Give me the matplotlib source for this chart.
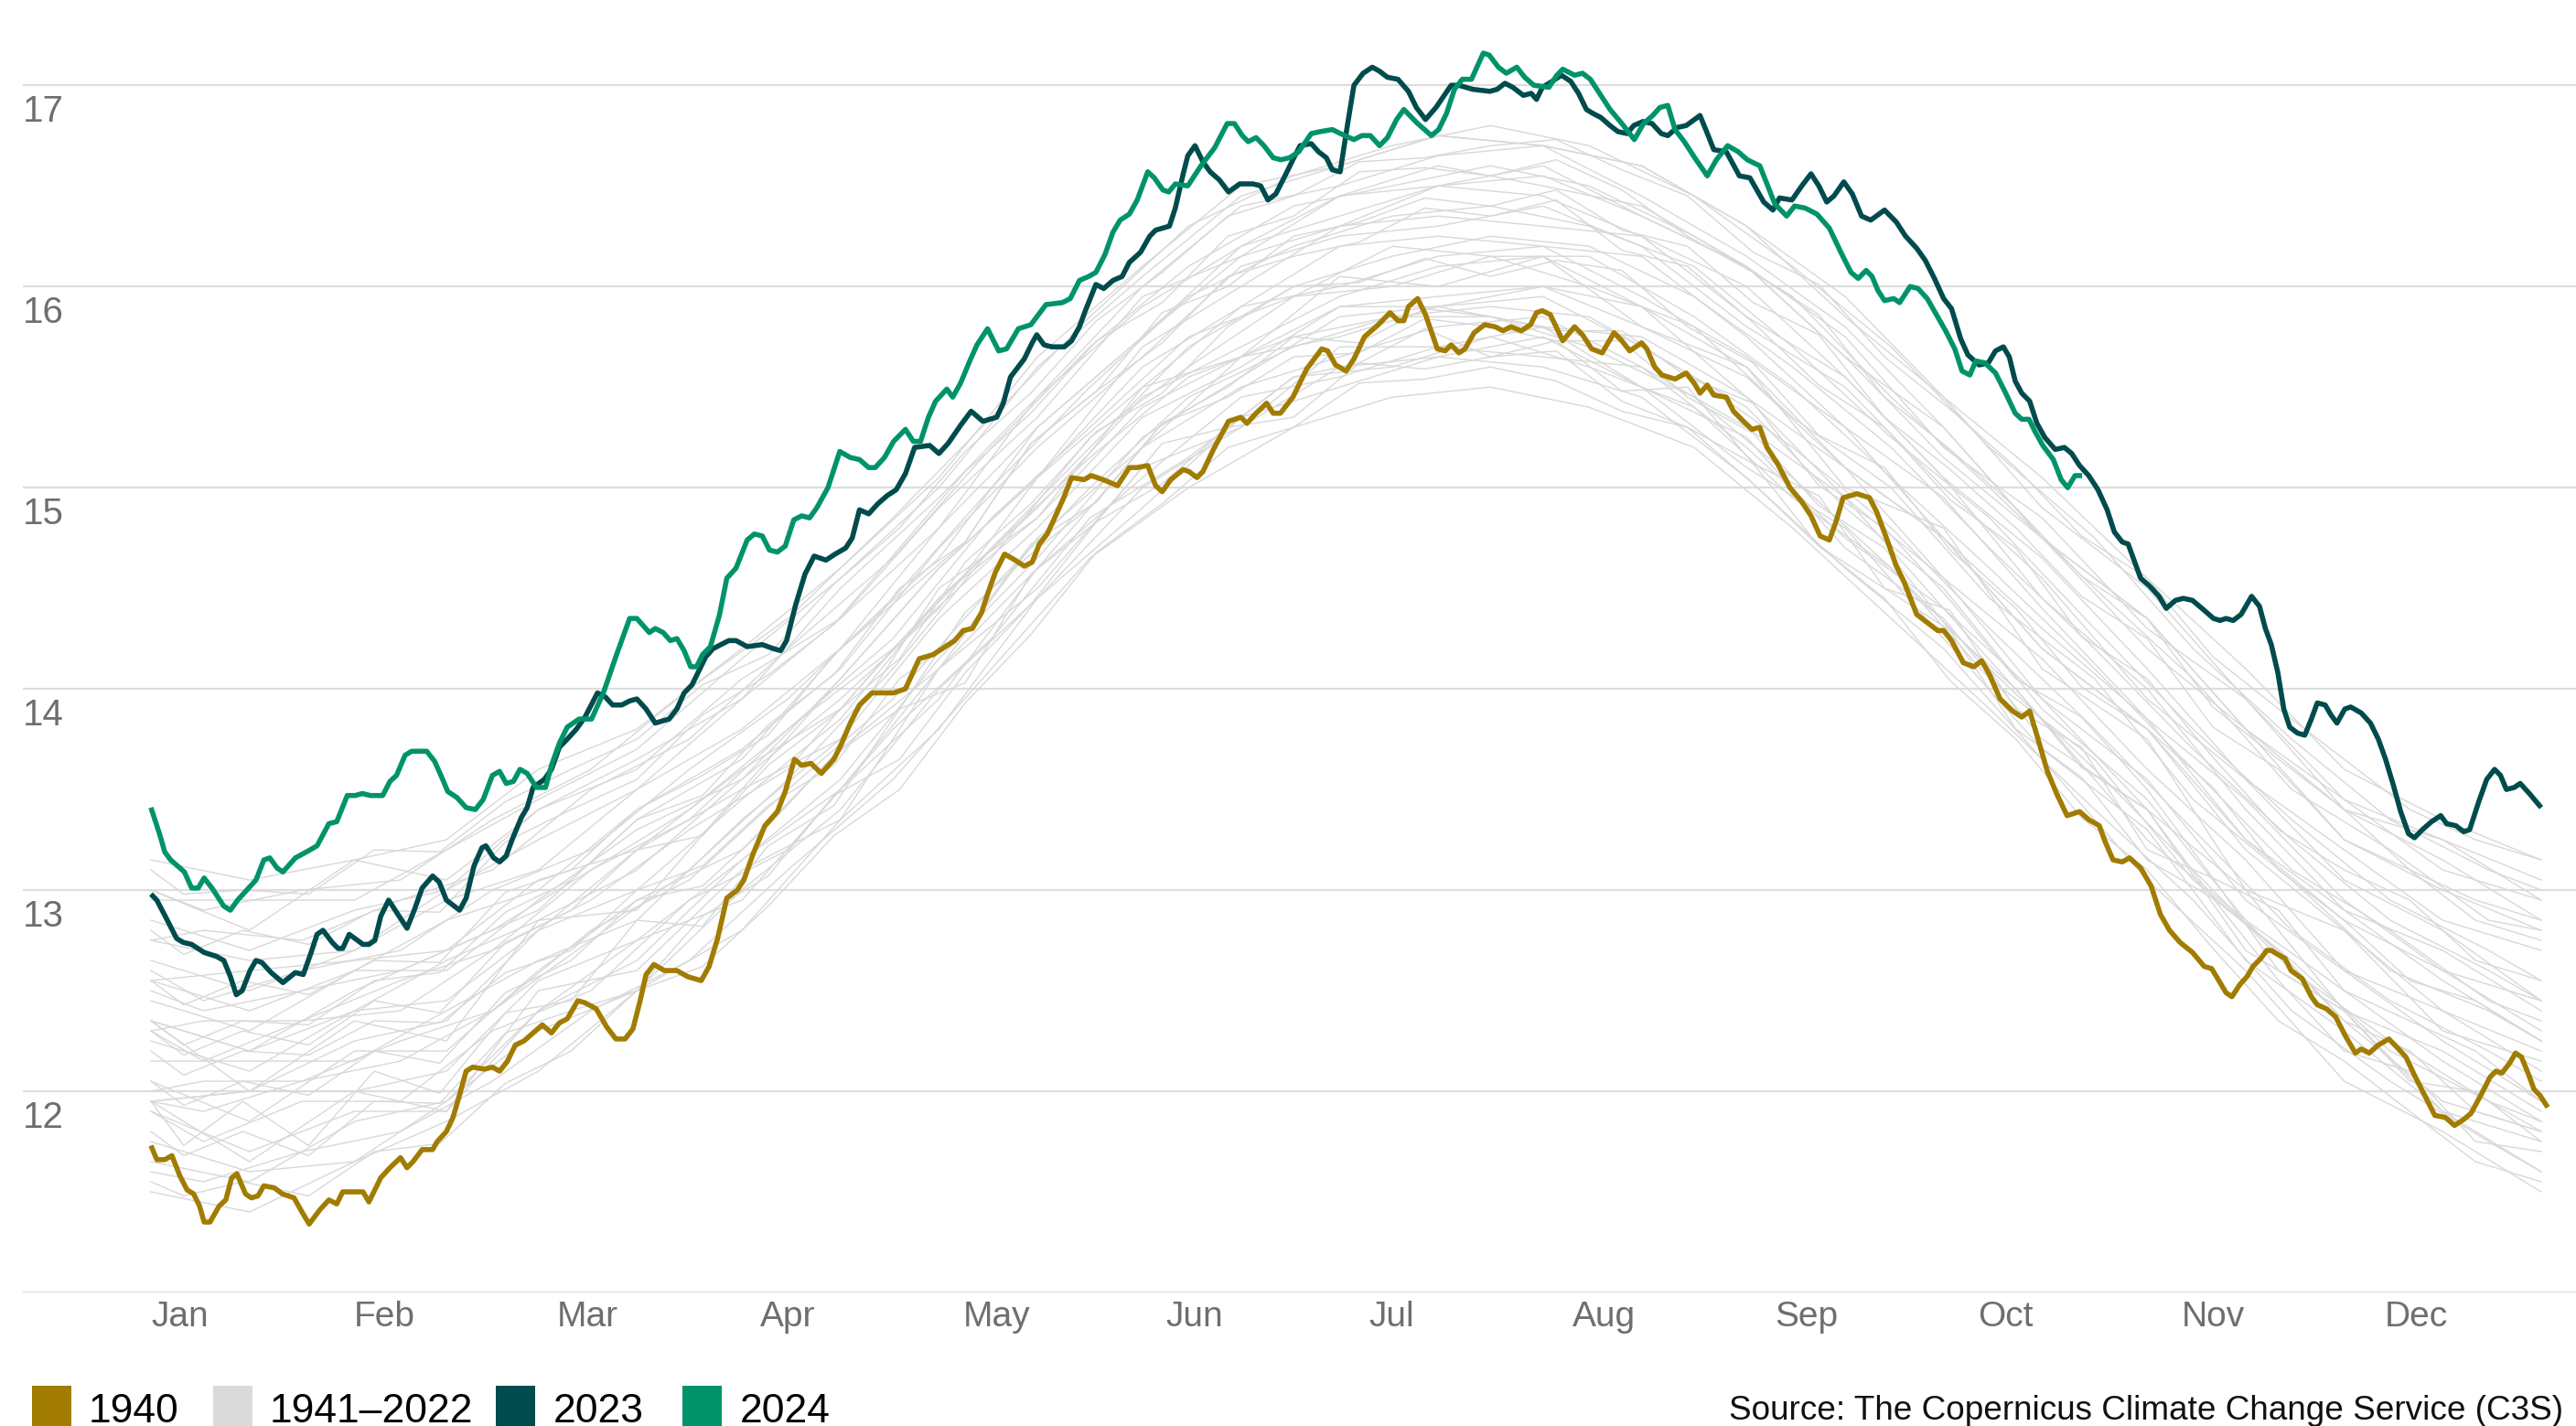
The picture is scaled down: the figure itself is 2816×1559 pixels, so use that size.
import matplotlib
matplotlib.use("Agg")
import matplotlib.pyplot as plt
from matplotlib.patches import Rectangle
import matplotlib.transforms as mtrans

# ---------------- data (day of year, global mean surface air temperature, degC) -------------
months = ["Jan", "Feb", "Mar", "Apr", "May", "Jun", "Jul", "Aug", "Sep", "Oct", "Nov", "Dec"]
y_ticks = [12, 13, 14, 15, 16, 17]

pts_2024 = [(0,13.41),(1.4,13.27),(2.1,13.19),(3.0,13.15),(5.1,13.09),(6.2,13.01),(7.2,13.01),(8.1,13.06),
 (9.3,13.01),(11.1,12.92),(12.1,12.90),(13.2,12.95),(14.6,13.00),(16.0,13.05),(17.2,13.15),(18.1,13.16),
 (19.2,13.11),(20.1,13.09),(22.0,13.16),(23.7,13.19),(25.3,13.22),(27.1,13.33),(28.3,13.34),(29.9,13.47),
 (31.1,13.47),(32.2,13.48),(33.4,13.47),(35.3,13.47),(36.4,13.54),(37.4,13.57),(38.7,13.67),(39.7,13.69),
 (40.8,13.69),(42.0,13.69),(43.2,13.64),(44.3,13.56),(45.2,13.49),(46.6,13.46),(48.0,13.41),(49.4,13.40),
 (50.6,13.45),(52.0,13.57),(53.1,13.59),(54.1,13.53),(55.2,13.54),(56.2,13.60),(57.3,13.58),(58.7,13.51),
 (60.1,13.51),(61.0,13.62),(62.2,13.73),(63.4,13.81),(65.2,13.85),(67.1,13.85),(68.9,13.98),(70.8,14.16),
 (72.9,14.35),(74.0,14.35),(75.9,14.28),(76.8,14.30),(78.0,14.28),(79.1,14.24),(80.1,14.25),(81.2,14.19),
 (82.2,14.11),(83.1,14.11),(84.0,14.17),(85.2,14.21),(86.6,14.37),(87.7,14.55),(89.1,14.60),(90.8,14.74),
 (91.9,14.77),(93.1,14.76),(94.2,14.69),(95.4,14.68),(96.6,14.71),(97.9,14.84),(99.1,14.86),(100.3,14.85),
 (101.4,14.90),(103.1,15.00),(104.9,15.18),(106.5,15.15),(107.9,15.14),(109.3,15.10),(110.3,15.10),
 (111.7,15.15),(113.1,15.23),(114.9,15.29),(116.1,15.23),(117.2,15.23),(118.4,15.35),(119.5,15.43),
 (121.2,15.49),(122.1,15.45),(123.3,15.52),(124.7,15.63),(125.8,15.71),(127.4,15.79),(129.1,15.68),
 (130.3,15.69),(132.1,15.79),(134.0,15.81),(136.3,15.91),(138.8,15.92),(140.0,15.94),(141.4,16.03),
 (142.8,16.05),(143.9,16.07),(145.3,16.16),(146.5,16.27),(147.6,16.33),(149.0,16.36),(150.2,16.43),
 (151.8,16.57),(152.8,16.54),(154.1,16.48),(155.0,16.47),(156.0,16.51),(157.9,16.50),(159.9,16.60),
 (162.0,16.69),(163.9,16.81),(165.0,16.81),(166.2,16.75),(167.1,16.72),(168.3,16.74),(169.5,16.70),
 (170.9,16.64),(172.1,16.63),(173.4,16.64),(174.8,16.67),(176.7,16.76),(178.1,16.77),(179.9,16.78),
 (181.8,16.75),(183.2,16.73),(184.4,16.75),(185.7,16.75),(187.1,16.70),(188.3,16.74),(189.7,16.83),
 (190.8,16.88),(192.9,16.81),(195.0,16.75),(196.1,16.78),(197.3,16.86),(198.5,16.98),(199.7,17.03),
 (201.1,17.03),(202.9,17.16),(203.8,17.15),(205.2,17.09),(206.4,17.06),(208.0,17.09),(209.2,17.04),
 (210.6,17.00),(212.9,16.99),(214.1,17.05),(215.0,17.08),(216.8,17.05),(218.0,17.06),(219.2,17.03),
 (220.6,16.96),(222.2,16.88),(224.0,16.81),(225.9,16.73),(227.3,16.81),(228.7,16.85),(229.8,16.89),
 (231.0,16.90),(232.1,16.78),(233.5,16.72),(235.1,16.64),(237.0,16.55),(238.4,16.63),(240.1,16.70),
 (241.7,16.67),(243.1,16.63),(245.0,16.60),(246.1,16.51),(247.3,16.41),(249.1,16.35),(250.3,16.40),
 (251.9,16.39),(253.7,16.36),(255.6,16.29),(257.5,16.16),(258.9,16.07),(260.0,16.04),(261.2,16.08),
 (262.1,16.05),(263.0,15.98),(264.0,15.93),(265.4,15.94),(266.3,15.92),(267.9,16.00),(269.1,15.99),
 (270.5,15.94),(271.9,15.86),(273.3,15.78),(274.7,15.69),(275.8,15.58),(277.0,15.56),(277.9,15.63),
 (279.3,15.62),(280.9,15.57),(282.3,15.48),(283.9,15.37),(284.9,15.34),(286.0,15.34),(286.9,15.28),
 (288.1,15.21),(289.7,15.14),(290.9,15.04),(291.9,15.00),(293.0,15.06),(294.1,15.06)]

pts_2023 = [(0,12.98),(0.9,12.95),(2.5,12.85),(3.9,12.76),(4.9,12.74),(6.2,12.73),(8.1,12.69),(10.0,12.67),
 (11.1,12.65),(12.1,12.57),(13.0,12.48),(13.9,12.50),(15.1,12.60),(16.0,12.65),(16.9,12.64),(18.3,12.59),
 (20.1,12.54),(22.0,12.59),(23.2,12.58),(24.4,12.69),(25.3,12.78),(26.2,12.80),(27.6,12.74),(28.5,12.71),
 (29.2,12.71),(30.2,12.78),(32.3,12.73),(33.2,12.73),(34.1,12.75),(35.0,12.87),(36.2,12.95),(37.4,12.89),
 (39.0,12.81),(40.1,12.90),(41.3,13.01),(42.9,13.07),(43.9,13.04),(45.0,12.95),(46.2,12.92),(47.0,12.90),
 (48.0,12.96),(49.2,13.12),(50.4,13.21),(51.0,13.22),(52.2,13.16),(53.1,13.14),(54.1,13.17),(55.0,13.25),
 (56.4,13.36),(57.3,13.41),(58.2,13.51),(59.9,13.55),(61.0,13.60),(62.2,13.71),(63.4,13.75),(64.8,13.80),
 (66.1,13.86),(68.0,13.98),(69.2,13.96),(70.3,13.92),(71.7,13.92),(72.9,13.94),(74.0,13.95),(75.4,13.90),
 (76.8,13.83),(78.9,13.85),(80.1,13.90),(81.2,13.98),(82.4,14.02),(83.3,14.08),(84.5,14.16),(85.6,14.20),
 (88.0,14.24),(89.1,14.24),(90.8,14.21),(93.1,14.22),(94.8,14.20),(95.9,14.19),(96.8,14.24),(98.2,14.42),
 (99.6,14.57),(101.0,14.66),(102.8,14.64),(104.2,14.67),(105.8,14.70),(106.8,14.75),(107.9,14.89),
 (109.3,14.87),(110.7,14.92),(112.1,14.96),(113.5,14.99),(114.9,15.07),(116.3,15.20),(118.6,15.21),
 (120.0,15.17),(121.4,15.22),(123.3,15.31),(124.9,15.38),(126.7,15.33),(128.8,15.35),(129.8,15.42),
 (130.9,15.55),(133.0,15.64),(134.2,15.72),(134.9,15.76),(136.0,15.71),(137.2,15.70),(139.1,15.70),
 (140.2,15.73),(141.4,15.80),(142.3,15.88),(143.9,16.01),(145.1,15.99),(146.5,16.03),(147.9,16.05),
 (149.0,16.12),(150.7,16.17),(152.1,16.25),(153.0,16.28),(155.1,16.30),(156.0,16.39),(157.2,16.56),
 (157.9,16.65),(159.0,16.70),(160.2,16.62),(161.3,16.57),(162.7,16.53),(164.1,16.47),(165.8,16.51),
 (167.8,16.51),(169.0,16.50),(170.1,16.43),(171.3,16.46),(172.7,16.55),(173.9,16.63),(175.0,16.70),
 (176.7,16.71),(177.8,16.67),(179.0,16.64),(179.9,16.58),(181.1,16.57),(182.2,16.80),(183.2,17.00),
 (184.6,17.06),(186.0,17.09),(187.1,17.07),(188.3,17.04),(189.9,17.03),(191.5,16.97),(192.7,16.89),
 (194.1,16.83),(195.7,16.89),(198.0,17.00),(199.2,17.00),(201.3,16.98),(203.9,16.97),(205.0,16.98),
 (206.2,17.01),(207.4,16.99),(209.0,16.95),(210.2,16.96),(211.0,16.93),(211.9,16.99),(213.4,17.02),
 (214.8,17.05),(216.2,17.02),(217.4,16.96),(218.6,16.88),(219.6,16.86),(220.8,16.84),(222.2,16.80),
 (223.4,16.77),(224.8,16.76),(225.8,16.80),(227.2,16.82),(228.6,16.81),(230.0,16.76),(231.0,16.75),
 (232.4,16.79),(233.8,16.80),(235.9,16.85),(236.9,16.77),(238.0,16.68),(239.9,16.67),(241.9,16.55),
 (243.5,16.54),(245.6,16.42),(247.0,16.38),(248.0,16.44),(249.9,16.43),(251.4,16.50),(252.8,16.56),
 (254.0,16.50),(255.2,16.42),(256.3,16.45),(257.8,16.52),(259.1,16.46),(260.5,16.35),(261.9,16.33),
 (264.0,16.38),(265.8,16.32),(267.2,16.25),(268.9,16.19),(270.2,16.13),(271.6,16.04),(273.0,15.94),
 (274.2,15.89),(275.6,15.74),(276.7,15.66),(278.4,15.61),(279.8,15.62),(280.9,15.68),(282.1,15.70),
 (283.0,15.65),(283.9,15.53),(284.9,15.47),(286.1,15.43),(287.2,15.32),(288.4,15.25),(290.0,15.19),
 (291.4,15.20),(292.5,15.17),(293.7,15.11),(295.1,15.06),(296.5,14.99),(297.9,14.89),(299.0,14.78),
 (300.2,14.73),(301.1,14.72),(302.0,14.64),(303.0,14.55),(304.4,14.51),(305.8,14.46),(306.9,14.40),
 (308.3,14.44),(309.5,14.45),(310.9,14.44),(312.7,14.39),(314.1,14.35),(315.1,14.34),(316.0,14.35),
 (317.1,14.34),(318.3,14.37),(319.9,14.46),(321.1,14.41),(322.0,14.30),(322.9,14.22),(323.9,14.08),
 (324.8,13.90),(325.7,13.81),(326.9,13.78),(328.0,13.77),(329.0,13.85),(329.9,13.93),(331.1,13.92),
 (332.0,13.87),(332.9,13.83),(334.1,13.90),(335.0,13.91),(336.6,13.88),(338.0,13.83),(339.2,13.75),
 (340.3,13.65),(341.5,13.52),(342.6,13.39),(343.8,13.28),(344.7,13.26),(345.9,13.30),(347.3,13.34),
 (348.7,13.37),(349.6,13.33),(351.0,13.32),(352.2,13.29),(353.1,13.30),(354.5,13.44),(355.7,13.55),
 (356.9,13.60),(357.8,13.57),(358.7,13.50),(359.9,13.51),(360.8,13.53),(362.2,13.48),(364.0,13.41)]

pts_1940 = [(0,11.73),(0.9,11.66),(2.1,11.66),(3.2,11.68),(4.4,11.58),(5.5,11.51),(6.5,11.49),(7.4,11.43),
 (8.1,11.35),(9.0,11.35),(10.4,11.43),(11.4,11.46),(12.3,11.57),(13.1,11.59),(14.4,11.49),(15.3,11.47),
 (16.3,11.48),(17.2,11.53),(18.8,11.52),(20.0,11.49),(21.8,11.47),(23.0,11.40),(24.1,11.34),(25.7,11.41),
 (27.1,11.46),(28.3,11.44),(29.2,11.50),(32.3,11.50),(33.2,11.45),(34.1,11.51),(35.0,11.57),(36.4,11.62),
 (38.0,11.67),(39.0,11.62),(39.9,11.65),(41.3,11.71),(42.9,11.71),(43.6,11.75),(45.0,11.80),(46.0,11.87),
 (46.9,11.97),(48.0,12.10),(49.0,12.12),(50.8,12.11),(52.0,12.12),(53.1,12.10),(54.3,12.15),(55.5,12.23),
 (56.8,12.25),(58.2,12.29),(59.6,12.33),(61.0,12.29),(62.2,12.34),(63.4,12.36),(65.0,12.45),(66.1,12.44),
 (67.8,12.41),(69.4,12.32),(70.8,12.26),(72.2,12.26),(73.4,12.31),(74.5,12.45),(75.4,12.58),(76.6,12.63),
 (78.2,12.60),(80.1,12.60),(81.7,12.57),(83.8,12.55),(85.0,12.62),(86.3,12.76),(87.7,12.96),(89.3,13.00),
 (90.3,13.05),(91.7,13.18),(93.5,13.32),(95.4,13.39),(96.6,13.49),(98.0,13.65),(99.1,13.62),(100.5,13.63),
 (102.1,13.58),(104.0,13.65),(105.2,13.73),(106.5,13.83),(107.9,13.92),(109.8,13.98),(113.1,13.98),
 (114.9,14.00),(117.0,14.15),(119.1,14.17),(121.0,14.21),(122.4,14.24),(123.7,14.29),(125.1,14.30),
 (126.5,14.38),(127.4,14.47),(128.6,14.58),(130.0,14.67),(131.6,14.64),(133.0,14.61),(134.2,14.63),
 (135.3,14.72),(136.5,14.77),(137.9,14.87),(139.0,14.95),(140.2,15.05),(142.1,15.04),(143.2,15.06),
 (145.0,15.04),(147.2,15.01),(149.0,15.10),(150.2,15.10),(151.8,15.11),(153.0,15.01),(154.0,14.98),
 (155.3,15.04),(157.2,15.09),(158.1,15.08),(159.3,15.05),(160.2,15.08),(161.8,15.19),(164.1,15.33),
 (166.0,15.35),(166.9,15.32),(168.3,15.37),(169.9,15.42),(170.9,15.37),(172.0,15.37),(173.9,15.45),
 (176.0,15.59),(178.3,15.69),(179.2,15.68),(180.4,15.61),(182.0,15.58),(183.2,15.64),(184.8,15.75),
 (186.9,15.81),(188.7,15.87),(189.9,15.83),(190.8,15.83),(191.5,15.90),(192.9,15.94),(194.1,15.86),
 (195.9,15.69),(197.1,15.68),(198.0,15.71),(199.2,15.67),(200.1,15.69),(201.5,15.77),(203.1,15.81),
 (204.7,15.80),(205.9,15.78),(207.1,15.80),(208.7,15.78),(210.1,15.81),(211.0,15.87),(211.9,15.88),
 (213.1,15.86),(215.0,15.73),(216.8,15.80),(218.0,15.76),(219.4,15.69),(221.0,15.67),(222.8,15.77),
 (224.0,15.73),(225.2,15.68),(227.0,15.72),(227.8,15.69),(229.0,15.60),(230.1,15.56),(232.1,15.54),
 (233.8,15.57),(235.0,15.52),(235.9,15.47),(237.0,15.51),(238.0,15.46),(239.9,15.45),(241.0,15.38),
 (242.2,15.34),(243.8,15.29),(245.0,15.30),(246.1,15.20),(247.7,15.12),(249.6,15.00),(251.4,14.93),
 (252.8,14.86),(254.2,14.76),(255.6,14.74),(256.6,14.83),(257.7,14.95),(259.8,14.97),(261.7,14.95),
 (262.8,14.88),(264.4,14.74),(265.8,14.61),(267.0,14.53),(268.9,14.37),(270.5,14.33),(272.1,14.29),
 (273.0,14.29),(274.2,14.24),(276.0,14.13),(277.6,14.11),(278.8,14.14),(280.0,14.07),(281.6,13.95),
 (283.5,13.89),(284.9,13.86),(286.1,13.89),(287.2,13.77),(288.8,13.59),(290.2,13.48),(291.8,13.37),
 (293.7,13.39),(295.1,13.35),(296.7,13.32),(297.6,13.24),(298.8,13.15),(300.2,13.14),(301.3,13.16),
 (303.0,13.11),(304.6,13.02),(306.0,12.88),(307.4,12.80),(309.0,12.74),(310.9,12.69),(312.7,12.62),
 (313.8,12.61),(315.1,12.54),(316.0,12.49),(316.9,12.47),(318.1,12.53),(319.2,12.57),(320.1,12.62),
 (321.3,12.66),(322.2,12.70),(322.9,12.70),(323.9,12.68),(325.0,12.66),(325.9,12.60),(327.6,12.56),
 (329.0,12.47),(329.9,12.43),(331.3,12.41),(332.7,12.37),(334.1,12.28),(335.7,12.19),(336.6,12.21),
 (337.8,12.19),(339.2,12.23),(340.8,12.26),(342.0,12.22),(343.4,12.17),(344.7,12.08),(346.4,11.97),
 (347.8,11.88),(349.4,11.87),(350.8,11.83),(352.2,11.86),(353.3,11.89),(354.8,11.98),(356.2,12.07),
 (357.1,12.10),(358.0,12.09),(359.2,12.14),(360.1,12.19),(361.0,12.17),(362.0,12.09),(362.9,12.01),
 (363.8,11.98),(365.0,11.92)]

# 1941-2022 background years (estimated, sampled on three staggered day grids)
grey_days = [0, 15, 31, 45, 59, 74, 90, 105, 120, 135, 151, 166, 181, 196, 212, 227, 243, 258, 273, 288, 304, 319, 334, 349, 364]
g01 = [11.5, 11.4, 11.65, 11.85, 12.1, 12.5, 12.8, 13.35, 13.8, 14.45, 14.9, 15.35, 15.5, 15.65, 15.6, 15.45, 15.05, 14.6, 14.2, 13.65, 13.05, 12.6, 12.05, 11.8, 11.5]
g02 = [11.75, 11.6, 11.65, 11.95, 12.3, 12.5, 13.0, 13.4, 14.0, 14.45, 15.0, 15.3, 15.6, 15.65, 15.75, 15.5, 15.1, 14.8, 14.25, 13.7, 13.3, 12.65, 12.3, 11.9, 11.6]
g03 = [11.9, 11.7, 11.9, 11.9, 12.4, 12.75, 12.95, 13.5, 13.95, 14.6, 15.05, 15.45, 15.55, 15.7, 15.65, 15.6, 15.2, 14.75, 14.4, 13.85, 13.25, 12.85, 12.35, 11.95, 11.8]
g04 = [11.95, 12.0, 12.0, 12.1, 12.55, 12.75, 13.15, 13.5, 14.1, 14.6, 15.2, 15.5, 15.65, 15.8, 15.85, 15.6, 15.3, 14.95, 14.4, 13.95, 13.4, 13.0, 12.4, 12.2, 11.9]
g05 = [12.05, 11.85, 12.2, 12.2, 12.6, 12.95, 13.2, 13.7, 14.1, 14.75, 15.2, 15.65, 15.75, 15.9, 15.8, 15.75, 15.45, 14.95, 14.55, 13.95, 13.55, 12.95, 12.6, 12.25, 11.95]
g06 = [12.15, 12.15, 12.15, 12.4, 12.65, 12.85, 13.35, 13.75, 14.35, 14.8, 15.35, 15.6, 15.9, 15.95, 16.0, 15.9, 15.45, 15.1, 14.55, 14.15, 13.6, 13.15, 12.6, 12.4, 12.1]
g07 = [12.25, 12.1, 12.4, 12.45, 12.8, 13.0, 13.45, 13.85, 14.45, 14.9, 15.45, 15.7, 15.95, 16.1, 16.15, 15.9, 15.6, 15.1, 14.75, 14.2, 13.8, 13.2, 12.8, 12.4, 12.2]
g08 = [12.35, 12.2, 12.4, 12.65, 12.85, 13.1, 13.55, 13.95, 14.4, 15.05, 15.5, 15.9, 16.0, 16.15, 16.2, 15.95, 15.65, 15.3, 14.75, 14.3, 13.85, 13.25, 12.85, 12.6, 12.3]
g09 = [12.45, 12.3, 12.6, 12.6, 12.95, 13.3, 13.55, 14.05, 14.6, 15.05, 15.6, 15.9, 16.2, 16.25, 16.2, 16.15, 15.75, 15.3, 14.95, 14.4, 13.85, 13.45, 12.95, 12.6, 12.45]
g10 = [12.55, 12.4, 12.6, 12.85, 13.0, 13.4, 13.7, 14.1, 14.7, 15.2, 15.65, 16.1, 16.25, 16.3, 16.4, 16.2, 15.8, 15.5, 15.0, 14.55, 13.95, 13.55, 13.05, 12.8, 12.45]
g11 = [12.65, 12.5, 12.7, 12.95, 13.1, 13.5, 13.8, 14.2, 14.8, 15.3, 15.75, 16.15, 16.3, 16.5, 16.45, 16.25, 16.0, 15.55, 15.05, 14.65, 14.1, 13.55, 13.2, 12.85, 12.7]
g12 = [12.75, 12.65, 12.7, 13.0, 13.25, 13.5, 13.95, 14.35, 14.8, 15.45, 15.9, 16.2, 16.45, 16.6, 16.5, 16.4, 16.1, 15.65, 15.15, 14.75, 14.2, 13.8, 13.25, 13.0, 12.8]
g13 = [12.85, 12.7, 12.9, 13.0, 13.4, 13.65, 13.95, 14.5, 14.95, 15.45, 16.0, 16.4, 16.5, 16.65, 16.7, 16.45, 16.15, 15.8, 15.3, 14.75, 14.35, 13.8, 13.4, 13.15, 12.85]
g14 = [12.95, 12.95, 12.95, 13.2, 13.45, 13.7, 14.15, 14.55, 15.0, 15.6, 16.05, 16.45, 16.6, 16.75, 16.7, 16.6, 16.3, 15.85, 15.45, 14.9, 14.5, 13.95, 13.45, 13.25, 13.05]
g15 = [13.15, 13.05, 13.15, 13.25, 13.6, 13.8, 14.2, 14.6, 15.05, 15.65, 16.1, 16.5, 16.6, 16.75, 16.7, 16.6, 16.3, 15.95, 15.45, 15.05, 14.55, 14.1, 13.6, 13.35, 13.15]
g16 = [11.95, 12.0, 12.25, 12.35, 12.8, 13.2, 13.5, 14.05, 14.6, 15.05, 15.7, 16.0, 16.3, 16.35, 16.3, 16.25, 15.85, 15.55, 15.05, 14.45, 14.0, 13.4, 12.9, 12.7, 12.4]
g17 = [12.55, 12.6, 12.65, 12.7, 13.05, 13.2, 13.6, 13.9, 14.45, 14.85, 15.4, 15.65, 15.9, 15.9, 15.95, 15.7, 15.4, 14.9, 14.5, 13.9, 13.45, 12.85, 12.5, 12.15, 11.85]
g18 = [11.65, 11.55, 11.85, 11.95, 12.4, 12.65, 13.15, 13.55, 14.15, 14.65, 15.25, 15.55, 15.85, 15.9, 16.0, 15.8, 15.55, 15.1, 14.75, 14.2, 13.8, 13.25, 12.9, 12.55, 12.25]
g19 = [12.35, 12.2, 12.5, 12.7, 12.9, 13.35, 13.65, 14.2, 14.65, 15.3, 15.75, 16.2, 16.35, 16.5, 16.55, 16.35, 16.1, 15.65, 15.3, 14.75, 14.35, 13.8, 13.45, 13.1, 12.95]
g20 = [12.35, 12.0, 12.35, 12.25, 12.85, 12.9, 13.5, 13.75, 14.5, 14.85, 15.5, 15.65, 16.05, 16.0, 16.15, 15.8, 15.6, 15.0, 14.8, 14.1, 13.75, 13.0, 12.8, 12.3, 12.15]
g21 = [13.0, 12.8, 13.15, 13.05, 13.4, 13.6, 14.05, 14.35, 14.9, 15.35, 15.95, 16.15, 16.45, 16.5, 16.6, 16.35, 16.1, 15.75, 15.2, 14.85, 14.3, 13.95, 13.4, 13.25, 12.95]
g22 = [11.95, 11.65, 12.0, 11.9, 12.5, 12.6, 13.1, 13.35, 14.1, 14.5, 15.1, 15.3, 15.7, 15.7, 15.8, 15.5, 15.25, 14.7, 14.35, 13.75, 13.4, 12.7, 12.4, 11.9, 11.75]
grey_years_a = [g01, g02, g03, g04, g05, g06, g07, g08, g09, g10, g11, g12, g13, g14, g15, g16, g17, g18, g19, g20, g21, g22]

grey_days_b = [0, 8, 23, 38, 52, 67, 82, 97, 113, 128, 143, 158, 174, 189, 204, 219, 235, 250, 265, 280, 296, 311, 326, 341, 356, 364]
h01 = [11.6, 11.55, 11.7, 11.8, 12.05, 12.4, 12.65, 13.1, 13.55, 14.1, 14.65, 15.0, 15.3, 15.45, 15.5, 15.4, 15.2, 14.8, 14.35, 13.9, 13.4, 12.95, 12.4, 12.05, 11.75, 11.6]
h02 = [11.9, 11.75, 11.95, 11.95, 12.3, 12.5, 12.95, 13.2, 13.8, 14.25, 14.85, 15.15, 15.55, 15.6, 15.75, 15.6, 15.4, 14.95, 14.6, 14.05, 13.65, 13.05, 12.65, 12.2, 11.95, 11.8]
h03 = [12.0, 12.05, 12.05, 12.25, 12.4, 12.8, 13.05, 13.5, 13.95, 14.5, 15.0, 15.45, 15.7, 15.85, 15.9, 15.85, 15.55, 15.2, 14.8, 14.3, 13.8, 13.3, 12.8, 12.45, 12.2, 12.05]
h04 = [12.3, 12.15, 12.35, 12.4, 12.7, 12.95, 13.3, 13.6, 14.2, 14.65, 15.25, 15.6, 15.95, 16.0, 16.15, 16.0, 15.8, 15.35, 15.0, 14.45, 14.05, 13.45, 13.05, 12.6, 12.4, 12.25]
h05 = [12.3, 12.35, 12.35, 12.55, 12.7, 13.1, 13.35, 13.8, 14.25, 14.85, 15.3, 15.75, 15.95, 16.2, 16.15, 16.15, 15.85, 15.5, 15.05, 14.6, 14.1, 13.6, 13.1, 12.8, 12.45, 12.35]
h06 = [12.6, 12.45, 12.6, 12.7, 13.0, 13.2, 13.6, 13.95, 14.45, 15.0, 15.5, 15.95, 16.2, 16.35, 16.4, 16.3, 16.1, 15.7, 15.25, 14.85, 14.3, 13.8, 13.35, 12.95, 12.7, 12.55]
h07 = [12.75, 12.8, 12.75, 12.95, 13.1, 13.5, 13.75, 14.2, 14.65, 15.2, 15.7, 16.1, 16.4, 16.5, 16.6, 16.5, 16.25, 15.95, 15.45, 15.0, 14.5, 14.05, 13.5, 13.2, 12.85, 12.8]
h08 = [13.0, 12.9, 13.0, 13.05, 13.35, 13.6, 14.0, 14.35, 14.85, 15.35, 15.85, 16.3, 16.55, 16.7, 16.8, 16.7, 16.45, 16.1, 15.7, 15.2, 14.75, 14.2, 13.75, 13.35, 13.1, 13.0]
h09 = [11.95, 11.9, 12.05, 12.15, 12.4, 12.75, 13.1, 13.55, 14.1, 14.7, 15.2, 15.7, 16.0, 16.15, 16.25, 16.2, 15.95, 15.6, 15.2, 14.7, 14.2, 13.7, 13.25, 12.85, 12.6, 12.45]
h10 = [12.5, 12.4, 12.5, 12.6, 12.8, 13.1, 13.4, 13.8, 14.2, 14.7, 15.15, 15.55, 15.75, 15.85, 15.85, 15.7, 15.45, 15.05, 14.6, 14.1, 13.6, 13.1, 12.6, 12.25, 11.95, 11.85]
grey_years_b = [h01, h02, h03, h04, h05, h06, h07, h08, h09, h10]

grey_days_c = [0, 5, 14, 24, 34, 44, 54, 64, 74, 84, 94, 104, 114, 124, 134, 144, 154, 164, 174, 184, 194, 204, 214, 224, 234, 244, 254, 264, 274, 284, 294, 304, 314, 324, 334, 344, 354, 364]
k01 = [11.8, 11.68, 11.8, 11.68, 11.95, 11.94, 12.29, 12.4, 12.5, 12.87, 13.07, 13.47, 13.65, 14.08, 14.42, 14.83, 15.02, 15.3, 15.35, 15.62, 15.59, 15.65, 15.68, 15.43, 15.3, 15.12, 14.71, 14.5, 14.29, 13.8, 13.56, 13.15, 12.96, 12.55, 12.2, 12.1, 11.75, 11.7]
k02 = [12.05, 11.93, 12.05, 11.98, 12.2, 12.14, 12.49, 12.65, 12.95, 13.02, 13.32, 13.67, 13.9, 14.38, 14.67, 14.93, 15.32, 15.5, 15.75, 15.72, 15.89, 15.85, 15.78, 15.78, 15.55, 15.42, 15.01, 14.8, 14.44, 14.05, 13.86, 13.5, 13.06, 12.9, 12.5, 12.35, 12.2, 11.95]
k03 = [12.3, 12.18, 12.3, 12.23, 12.45, 12.39, 12.74, 12.9, 13.2, 13.27, 13.62, 13.87, 14.15, 14.63, 14.92, 15.28, 15.47, 15.8, 16.0, 16.02, 16.14, 16.05, 16.13, 16.08, 15.8, 15.62, 15.26, 15.1, 14.69, 14.4, 14.01, 13.8, 13.51, 13.1, 12.85, 12.55, 12.45, 12.25]
k04 = [12.55, 12.43, 12.55, 12.48, 12.65, 12.64, 12.99, 13.1, 13.4, 13.57, 13.77, 14.17, 14.45, 14.73, 15.22, 15.48, 15.72, 16.05, 16.15, 16.22, 16.39, 16.35, 16.43, 16.18, 16.1, 15.82, 15.51, 15.3, 14.94, 14.7, 14.26, 14.05, 13.66, 13.3, 13.1, 12.95, 12.65, 12.55]
k05 = [12.8, 12.68, 12.8, 12.73, 12.9, 12.89, 13.24, 13.4, 13.55, 13.87, 14.07, 14.32, 14.7, 15.08, 15.37, 15.73, 15.92, 16.25, 16.35, 16.57, 16.59, 16.55, 16.63, 16.48, 16.25, 16.07, 15.86, 15.45, 15.19, 14.9, 14.56, 14.35, 13.91, 13.65, 13.4, 13.1, 12.95, 12.85]
k06 = [11.55, 11.48, 11.55, 11.48, 11.7, 11.74, 12.04, 12.2, 12.5, 12.62, 12.92, 13.27, 13.5, 13.93, 14.27, 14.68, 14.92, 15.2, 15.3, 15.52, 15.54, 15.6, 15.53, 15.38, 15.3, 15.02, 14.71, 14.45, 14.04, 13.75, 13.36, 13.1, 12.71, 12.35, 12.15, 11.9, 11.65, 11.55]
k07 = [12.35, 12.23, 12.35, 12.33, 12.55, 12.59, 12.89, 13.05, 13.35, 13.47, 13.82, 14.07, 14.5, 14.73, 15.22, 15.48, 15.87, 16.0, 16.25, 16.32, 16.44, 16.4, 16.48, 16.28, 16.2, 15.92, 15.76, 15.35, 15.09, 14.8, 14.46, 14.25, 13.81, 13.6, 13.25, 13.1, 12.85, 12.75]
k08 = [12.2, 12.08, 12.2, 12.18, 12.35, 12.34, 12.59, 12.7, 13.0, 13.12, 13.42, 13.62, 14.05, 14.28, 14.72, 14.93, 15.32, 15.45, 15.65, 15.67, 15.84, 15.8, 15.73, 15.73, 15.45, 15.27, 14.91, 14.7, 14.29, 14.0, 13.61, 13.4, 12.96, 12.7, 12.35, 12.2, 11.9, 11.8]
k09 = [13.1, 12.98, 13.0, 12.98, 13.2, 13.19, 13.44, 13.6, 13.75, 14.02, 14.17, 14.52, 14.8, 15.18, 15.47, 15.83, 16.07, 16.35, 16.45, 16.62, 16.64, 16.7, 16.73, 16.58, 16.45, 16.17, 16.01, 15.65, 15.39, 15.1, 14.76, 14.55, 14.16, 13.9, 13.65, 13.4, 13.25, 13.15]
k10 = [11.95, 11.73, 11.95, 11.73, 12.1, 11.99, 12.39, 12.45, 12.85, 12.82, 13.22, 13.42, 13.9, 14.03, 14.57, 14.83, 15.22, 15.3, 15.55, 15.62, 15.79, 15.65, 15.73, 15.48, 15.5, 15.12, 14.96, 14.5, 14.39, 13.9, 13.71, 13.2, 13.06, 12.6, 12.4, 12.05, 12.0, 11.75]
grey_years_c = [k01, k02, k03, k04, k05, k06, k07, k08, k09, k10]

legend_labels = ["1940", "1941\u20132022", "2023", "2024"]

# ---------------- style ----------------
C1940, CGREY, C2023, C2024 = "#A17C00", "#D8D8D8", "#004B4D", "#00936A"
LEG_GREY = "#DADADA"
TICK_COL = "#6D6E71"
GRID_COL = "#DEDEDE"
plt.rcParams["font.family"] = ["Liberation Sans", "DejaVu Sans"]

W, H, DPI = 2816, 1559, 200
fig = plt.figure(figsize=(W / DPI, H / DPI), dpi=DPI)
ax_bottom_px = 1413
ax = fig.add_axes([25 / W, 1 - ax_bottom_px / H, 1 - 25 / W, ax_bottom_px / H])
ax.set_xlim(-19.5, 369.3)
ax.set_ylim(11.0, 17.424)
for s in ax.spines.values():
    s.set_visible(False)
ax.set_xticks([])
ax.set_yticks([])

# grid lines (incl. the base line)
for v in [11] + y_ticks:
    ax.axhline(v, color=GRID_COL, lw=0.8, zorder=0)

# background years
for days, group in [(grey_days, grey_years_a), (grey_days_b, grey_years_b), (grey_days_c, grey_years_c)]:
    for g in group:
        ax.plot(days, g, color=CGREY, lw=0.5, zorder=1)

def unzip(p):
    return [a for a, b in p], [b for a, b in p]

for pts, col, z in [(pts_1940, C1940, 3), (pts_2023, C2023, 4), (pts_2024, C2024, 5)]:
    d, v = unzip(pts)
    ax.plot(d, v, color=col, lw=2.0, zorder=z, solid_joinstyle="round", solid_capstyle="butt")

# y tick labels (below each grid line, left aligned)
tr = mtrans.blended_transform_factory(ax.transAxes, ax.transData)
for v in y_ticks:
    ax.text(0.0, v - 0.13, str(v), transform=tr, ha="left", va="center",
            fontsize=14.5, color=TICK_COL)

# month labels, evenly spaced, left aligned
trx = mtrans.blended_transform_factory(ax.transData, ax.transAxes)
for i, m in enumerate(months):
    ax.text(i * 30.92, -0.019, m, transform=trx, ha="left", va="center",
            fontsize=14, color=TICK_COL)

# legend along the bottom
leg_sq = [35, 233, 542, 746]
leg_tx = [97, 295, 605, 809]
leg_col = [C1940, LEG_GREY, C2023, C2024]
for x0, xt, c, lab in zip(leg_sq, leg_tx, leg_col, legend_labels):
    fig.patches.append(Rectangle((x0 / W, -0.01), 43 / W, (H - 1515) / H + 0.01,
                                 transform=fig.transFigure, color=c, lw=0))
    fig.text(xt / W, 4 / H, lab, ha="left", va="baseline", fontsize=16, color="black")

fig.text(2802 / W, 7 / H, "Source: The Copernicus Climate Change Service (C3S)",
         ha="right", va="baseline", fontsize=13.3, color="#111111")

fig.savefig("out.png", dpi=DPI, facecolor="white")
